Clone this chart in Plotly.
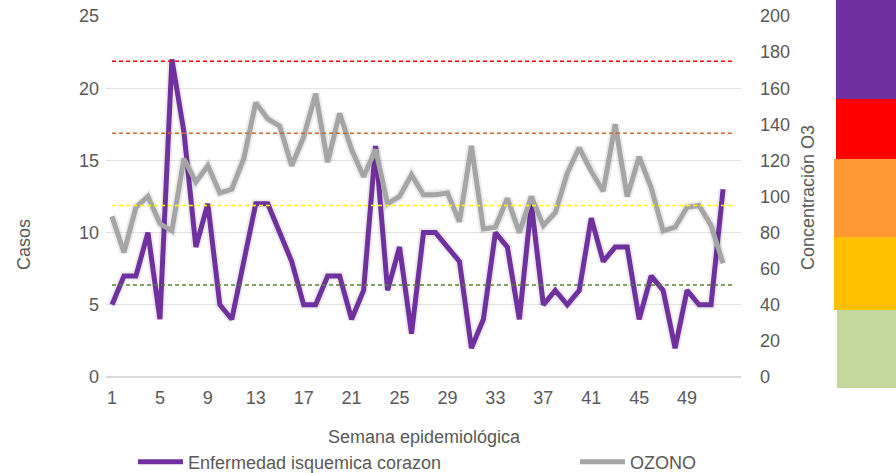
import plotly.graph_objects as go

weeks = list(range(1, 53))
casos = [5, 7, 7, 10, 4, 22, 17, 9, 12, 5, 4, 8, 12, 12, 10, 8, 5, 5, 7, 7, 4, 6, 16, 6, 9, 3,
         10, 10, 9, 8, 2, 4, 10, 9, 4, 12, 5, 6, 5, 6, 11, 8, 9, 9, 4, 7, 6, 2, 6, 5, 5, 13]
ozono = [89, 69, 94, 100, 85, 81, 121, 108, 117, 102, 104, 121, 152, 143, 139, 117, 133, 157,
         119, 146, 126, 111, 126, 96, 100, 112, 101, 101, 102, 86, 128, 82, 83, 99, 80, 100,
         84, 91, 113, 127, 114, 103, 140, 100, 122, 105, 81, 83, 94, 95, 84, 63]
umbrales = [51, 95, 135, 175]
umbral_colores = ["#548235", "#FFFF00", "#D0692A", "#FF0000"]
x_ticks = list(range(1, 53, 4))
left_ticks = [0, 5, 10, 15, 20, 25]
right_ticks = list(range(0, 201, 20))

FONT = "Liberation Sans, Arial, sans-serif"
TXT = "#595959"

L, R, T, B = 106, 741, 16, 377
PW, PH = R - L, B - T


def px(x):
    return (x - L) / PW


def py(y):
    return (B - y) / PH


fig = go.Figure()

# soft shadows (Excel-like glow under the lines)
fig.add_trace(go.Scatter(x=weeks, y=ozono, mode="lines", yaxis="y2", showlegend=False,
                         hoverinfo="skip", line=dict(color="rgba(0,0,0,0.08)", width=9)))
fig.add_trace(go.Scatter(x=weeks, y=ozono, mode="lines", name="OZONO", yaxis="y2",
                         line=dict(color="#A5A5A5", width=5), legend="legend2"))
fig.add_trace(go.Scatter(x=weeks, y=casos, mode="lines", showlegend=False,
                         hoverinfo="skip", line=dict(color="rgba(0,0,0,0.08)", width=9)))
fig.add_trace(go.Scatter(x=weeks, y=casos, mode="lines", name="Enfermedad isquemica corazon",
                         line=dict(color="#7030A0", width=5), legend="legend"))

for v, c in zip(umbrales, umbral_colores):
    fig.add_trace(go.Scatter(x=[1, 53], y=[v, v], mode="lines", yaxis="y2", showlegend=False,
                             hoverinfo="skip", line=dict(color=c, width=1.5, dash="4px,3px")))

# colour scale bar at right (pixel boxes)
bands = [
    (836, 0, 99, "#7030A0"),
    (836, 99, 164, "#FF0000"),
    (834, 159, 237, "#FF9933"),
    (834, 237, 310, "#FFC000"),
    (837, 310, 388, "#C4D79B"),
]
shapes = []
for x0, t0, t1, col in bands:
    shapes.append(dict(type="rect", xref="paper", yref="paper", layer="above",
                       x0=px(x0), x1=px(896), y0=py(t1), y1=py(t0),
                       fillcolor=col, line=dict(width=0)))

fig.update_layout(
    width=896, height=473,
    margin=dict(l=L, r=896 - R, t=T, b=473 - B, autoexpand=False),
    paper_bgcolor="white", plot_bgcolor="white",
    font=dict(family=FONT, size=18, color=TXT),
    showlegend=True,
    legend=dict(orientation="h", x=px(133), y=py(462), xanchor="left", yanchor="middle",
                font=dict(size=18, color=TXT), itemwidth=45),
    legend2=dict(orientation="h", x=px(575), y=py(462), xanchor="left", yanchor="middle",
                 font=dict(size=18, color=TXT), itemwidth=45),
    xaxis=dict(range=[0.5, 53.5], tickmode="array", tickvals=x_ticks,
               ticktext=[str(t) for t in x_ticks], showgrid=False, zeroline=False,
               showline=False, ticklabelstandoff=8, tickfont=dict(size=18, color=TXT)),
    yaxis=dict(range=[0, 25], tickvals=left_ticks, showgrid=True, gridcolor="#E3E3E3",
               gridwidth=1, zeroline=True, zerolinecolor="#D9D9D9", zerolinewidth=1.5,
               ticklabelstandoff=6, tickfont=dict(size=18, color=TXT)),
    yaxis2=dict(range=[0, 200], tickvals=right_ticks, overlaying="y", side="right",
                showgrid=False, zeroline=False, ticklabelstandoff=18,
                tickfont=dict(size=18, color=TXT)),
    shapes=shapes,
    annotations=[
        dict(text="Casos", xref="paper", yref="paper", x=px(24), y=py(245),
             xanchor="center", yanchor="middle",
             textangle=-90, showarrow=False, font=dict(size=18, color=TXT)),
        dict(text="Concentración O3", xref="paper", yref="paper", x=px(808),
             y=py(197), xanchor="center", yanchor="middle",
             textangle=-90, showarrow=False, font=dict(size=18, color=TXT)),
        dict(text="Semana epidemiológica", xref="paper", yref="paper", x=px(424),
             y=py(437), xanchor="center", yanchor="middle",
             showarrow=False, font=dict(size=18, color=TXT)),
    ],
)

fig.write_html("out.html", post_script="document.body.style.margin='0';",
               config={"displayModeBar": False})
